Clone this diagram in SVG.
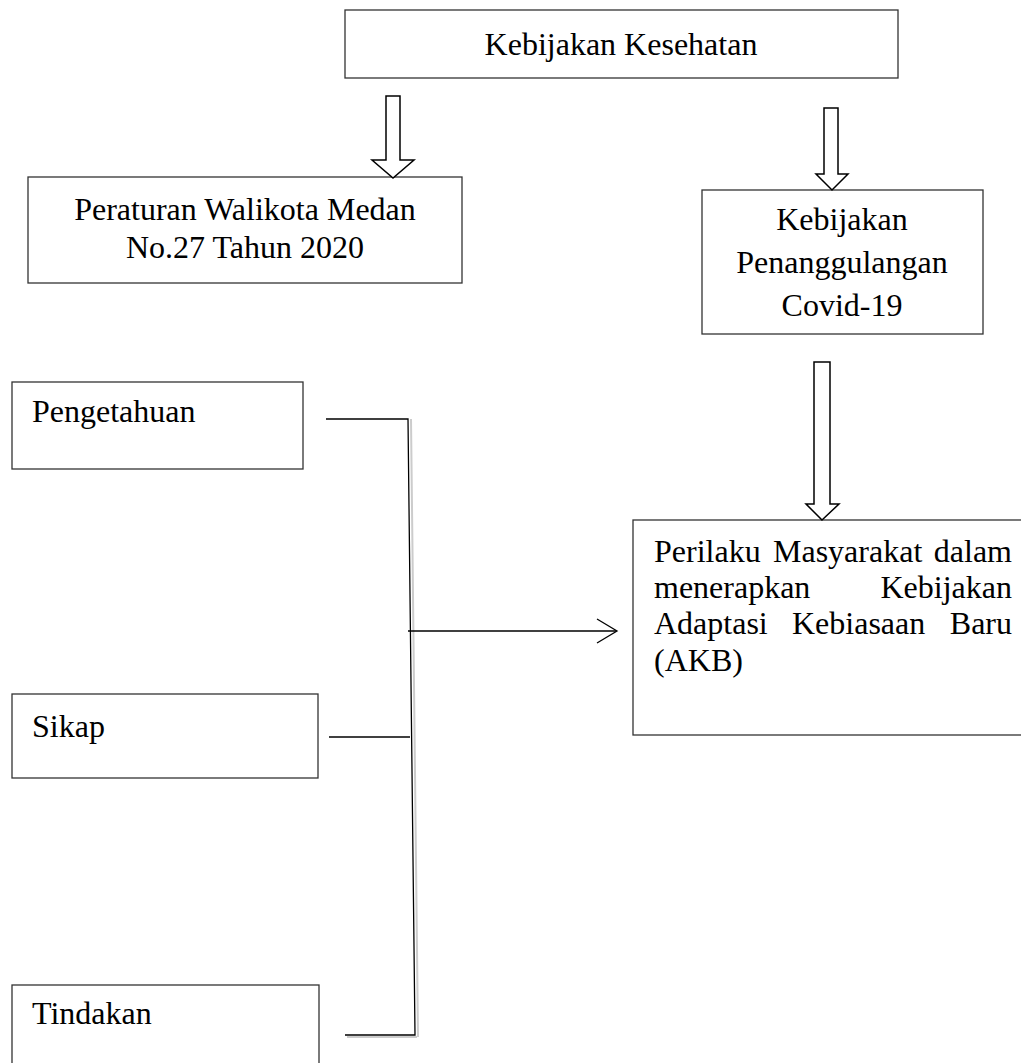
<svg xmlns="http://www.w3.org/2000/svg" width="1021" height="1063" viewBox="0 0 1021 1063">
<style>
.box{fill:#fff;stroke:#333;stroke-width:1.3}
.t{font-family:"Liberation Serif","Times New Roman",serif;font-size:32px;fill:#000}
.c{text-anchor:middle}
.e{text-anchor:end}
.ha{fill:#fff;stroke:#000;stroke-width:1.5;stroke-linejoin:miter}
.ln{stroke:#000;stroke-width:1.3;fill:none}
.sh{stroke:#ccc;stroke-width:2;fill:none}
</style>
<rect width="1021" height="1063" fill="#fff"/>
<g id="kebijakan-kesehatan">
<rect class="box" x="345" y="10" width="553" height="68"/>
<text class="t c" x="621" y="55">Kebijakan Kesehatan</text>
</g>
<g id="peraturan">
<rect class="box" x="28" y="177" width="434" height="106"/>
<text class="t c" x="245" y="220">Peraturan Walikota Medan</text>
<text class="t c" x="245" y="258">No.27 Tahun 2020</text>
</g>
<g id="penanggulangan">
<rect class="box" x="702" y="190" width="281" height="144"/>
<text class="t c" x="842" y="230">Kebijakan</text>
<text class="t c" x="842" y="273">Penanggulangan</text>
<text class="t c" x="842" y="316">Covid-19</text>
</g>
<g id="akb">
<rect class="box" x="633" y="520" width="400" height="215"/>
<text class="t" x="654" y="562">Perilaku</text>
<text class="t" x="773" y="562">Masyarakat</text>
<text class="t e" x="1012" y="562">dalam</text>
<text class="t" x="654" y="598">menerapkan</text>
<text class="t e" x="1012" y="598">Kebijakan</text>
<text class="t" x="654" y="634">Adaptasi</text>
<text class="t" x="792" y="634">Kebiasaan</text>
<text class="t e" x="1012" y="634">Baru</text>
<text class="t" x="654" y="671">(AKB)</text>
</g>
<g id="pengetahuan">
<rect class="box" x="12" y="382" width="291" height="87"/>
<text class="t" x="32" y="422">Pengetahuan</text>
</g>
<g id="sikap">
<rect class="box" x="12" y="694" width="306" height="84"/>
<text class="t" x="32" y="737">Sikap</text>
</g>
<g id="tindakan">
<rect class="box" x="12" y="985" width="307" height="90"/>
<text class="t" x="32" y="1024">Tindakan</text>
</g>
<g id="connectors">
<polygon class="ha" points="386,96 400,96 400,160 414,160 393,178 372,160 386,160"/>
<polygon class="ha" points="824,108 838,108 838,174 848,174 832,190 816,174 824,174"/>
<polygon class="ha" points="814,362 830,362 830,504 839,504 822,520 806,504 814,504"/>
<path class="sh" d="M411,419 L418,1037 M347,1037 L417,1037"/>
<path class="ln" d="M326,419 L408,419 L415,1035 L345,1035"/>
<path class="ln" d="M329,737 L410,737"/>
<path class="ln" d="M408,631 L616,631" stroke-width="2.2"/>
<path class="ln" d="M597,619 L617,631 L597,643" stroke-width="2.4"/>
</g>
</svg>
